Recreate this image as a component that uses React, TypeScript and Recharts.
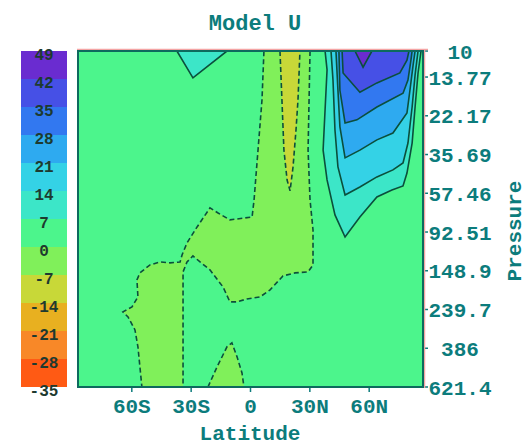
import { Bar, BarChart, CartesianGrid, ComposedChart, Scatter, XAxis, YAxis } from "recharts";

// colour levels of the field (m/s), bottom to top of the colour bar
const levels = [-35, -28, -21, -14, -7, 0, 7, 14, 21, 28, 35, 42, 49];
const bandColors = [
  "#ff5a14", "#f88828", "#e8b020", "#c8d838", "#80f05a", "#4cf58c",
  "#3ce6c8", "#34d2e6", "#2eaaf0", "#3278f0", "#4650e6", "#6a2cd0",
];

const latTicks = [-60, -30, 0, 30, 60];
const latLabels = ["60S", "30S", "0", "30N", "60N"];
const pressureTicks = [10, 13.77, 22.17, 35.69, 57.46, 92.51, 148.9, 239.7, 386, 621.4];
const pressureLabels = ["10", "13.77", "22.17", "35.69", "57.46", "92.51", "148.9", "239.7", "386", "621.4"];

// contour regions as [latitude, pressure] outlines
const easterlyBand: [number, number][] = [
  [30.1, 10], [29.6, 18.3], [29.1, 33.8], [30.1, 62.4], [31.6, 90.2], [31.6, 138.6],
  [29.1, 151], [22.5, 152.9], [16.4, 158.6], [9.9, 188.4], [4.8, 205.3], [-1.8, 210.5],
  [-6.8, 218.4], [-10.4, 218.4], [-13.9, 181.6], [-20.5, 147.3], [-25.5, 133.6],
  [-29.1, 124.1], [-32.1, 133.6], [-34.1, 151], [-34.1, 621.4], [-54.9, 621.4],
  [-55.9, 485.2], [-56.9, 379.4], [-58.4, 308.1], [-61.9, 262.6], [-64.5, 246.9],
  [-59.9, 232.2], [-56.9, 205.3], [-57.4, 166.6], [-55.9, 152.9], [-50.8, 138.6],
  [-45.8, 133.6], [-40.7, 135.2], [-35.6, 133.6], [-34.6, 122.6], [-32.1, 105.8],
  [-27.0, 86.9], [-20.5, 68.8], [-16.4, 73.2], [-10.4, 79.7], [0.8, 76.9],
  [1.8, 62.4], [3.8, 33.8], [5.8, 18.3], [6.8, 10],
];
const easterlySouth: [number, number][] = [
  [-21.5, 621.4], [-16.9, 485.2], [-11.9, 379.4], [-9.4, 361.2], [-6.8, 429], [-4.3, 522.5], [-3.3, 621.4],
];
const easterlyCore: [number, number][] = [
  [14.9, 10], [15.9, 18.3], [16.9, 33.8], [18.5, 48.8], [20.0, 55.8], [21.5, 41.6], [23.0, 26.4], [24.0, 18.3], [25.0, 10],
];
const southCap: [number, number][] = [[-37.2, 10], [-29.1, 13.9], [-11.9, 10]];

const jet7: [number, number][] = [
  [37.7, 10], [38.7, 12.6], [37.7, 20.6], [36.7, 33.8], [38.7, 48.8], [42.7, 75], [47.8, 98.3],
  [55.3, 76.9], [63.9, 60.1], [71.5, 55.2], [77.1, 52.5], [79.1, 44.8], [81.7, 31], [83.2, 19.9], [84.7, 13.1], [86.2, 10],
];
const jet14: [number, number][] = [
  [40.7, 10], [41.7, 14.3], [42.7, 26.4], [44.2, 41.6], [47.8, 58.7], [55.3, 53.2], [63.9, 47],
  [72.0, 43.1], [77.1, 39.6], [79.6, 31], [81.7, 19.9], [83.2, 13.4], [84.7, 10],
];
const jet21: [number, number][] = [
  [43.2, 10], [44.2, 16.2], [45.2, 25.4], [47.8, 37.2], [55.3, 33.8], [63.9, 29.8], [72.0, 27.4],
  [79.1, 21.4], [80.6, 16.2], [82.2, 11.9], [83.2, 10],
];
const jet28: [number, number][] = [
  [44.7, 10], [45.2, 16.2], [47.8, 24.2], [53.8, 23.3], [63.9, 19.9], [77.1, 16.8], [79.6, 14.3], [81.1, 11.2], [81.7, 10],
];
const jet35: [number, number][] = [
  [46.3, 10], [46.8, 13.1], [55.3, 16.6], [63.9, 14.8], [75.5, 13.1], [79.1, 11.2], [80.1, 10],
];
const jet42: [number, number][] = [[52.8, 10], [56.9, 12.2], [61.4, 10]];

const regions = [
  { pts: easterlyBand, color: bandColors[4], dashed: true },
  { pts: easterlySouth, color: bandColors[4], dashed: true },
  { pts: easterlyCore, color: bandColors[3], dashed: true },
  { pts: southCap, color: bandColors[6], dashed: false },
  { pts: jet7, color: bandColors[6], dashed: false },
  { pts: jet14, color: bandColors[7], dashed: false },
  { pts: jet21, color: bandColors[8], dashed: false },
  { pts: jet28, color: bandColors[9], dashed: false },
  { pts: jet35, color: bandColors[10], dashed: false },
  { pts: jet42, color: bandColors[11], dashed: false },
];

const FONT = '"Liberation Mono", "DejaVu Sans Mono", monospace';
const TEAL = "#0c7c7c";
const LINE = "#0b4f3c";

// colour bar: one stacked column, bands pushed out from zero
const bands = bandColors.map((color, i) => ({
  key: "b" + i,
  color,
  value: levels[i] >= 0 ? levels[i + 1] - levels[i] : levels[i] - levels[i + 1],
  dist: Math.abs(levels[i] + levels[i + 1]),
}));
const stackOrder = [...bands].sort((a, b) => a.dist - b.dist);
const barRow: Record<string, number | string> = { name: "bar" };
bands.forEach((b) => (barRow[b.key] = b.value));

function noShape() {
  return <g />;
}

function LevelTick(props: any) {
  const { y, payload } = props;
  return (
    <text x={23} y={y + 3} dy="0.36em" textAnchor="middle" fontFamily={FONT} fontSize={16} fontWeight="bold" fill="#1d3a30">
      {payload.value}
    </text>
  );
}

function PressureTick(props: any) {
  const { x, y, payload } = props;
  const i = pressureTicks.indexOf(payload.value);
  return (
    <text x={x + 30} y={y} dy="0.36em" textAnchor="middle" fontFamily={FONT} fontSize={21} fontWeight="bold" fill={TEAL}>
      {i >= 0 ? pressureLabels[i] : payload.value}
    </text>
  );
}

export default function App() {
  return (
    <div style={{ position: "absolute", left: 0, top: 0, width: 527, height: 446, background: "#fff" }}>
      <div style={{ position: "absolute", left: 21, top: 31 }}>
        <BarChart width={46} height={376} data={[barRow]} margin={{ top: 20, bottom: 20, left: 0, right: 0 }}
          stackOffset="sign" barCategoryGap={0} barGap={0}>
          <XAxis dataKey="name" hide />
          <YAxis type="number" domain={[-35, 49]} allowDataOverflow hide />
          {stackOrder.map((b) => (
            <Bar key={b.key} dataKey={b.key} stackId="cb" fill={b.color} isAnimationActive={false} />
          ))}
        </BarChart>
      </div>
      {/* level labels sit on the bar, drawn from the same value axis */}
      <div style={{ position: "absolute", left: 21, top: 31 }}>
        <BarChart width={46} height={376} data={[barRow]} margin={{ top: 20, bottom: 20, left: 0, right: 0 }}>
          <XAxis dataKey="name" hide />
          <YAxis type="number" domain={[-35, 49]} ticks={levels} interval={0} mirror width={46}
            axisLine={false} tickLine={false} tick={<LevelTick />} allowDataOverflow />
        </BarChart>
      </div>

      <div style={{ position: "absolute", left: 0, top: 0 }}>
        <ComposedChart width={527} height={446} margin={{ top: 51, left: 78, right: 24, bottom: 19 }}>
          <CartesianGrid horizontal={false} vertical={false} fill={bandColors[5]} fillOpacity={1} />
          {regions.map((r, i) => (
            <Scatter
              key={i}
              data={r.pts.map(([lat, p]) => ({ lat, p }))}
              shape={noShape}
              lineType="joint"
              line={{
                fill: r.color,
                stroke: LINE,
                strokeWidth: 1.6,
                strokeDasharray: r.dashed ? "5 3" : undefined,
              }}
              isAnimationActive={false}
            />
          ))}
          <XAxis type="number" dataKey="lat" domain={[-87.2, 87.2]} allowDataOverflow ticks={latTicks}
            height={40} axisLine={false} tickLine={{ stroke: TEAL, strokeWidth: 1.5 }} tickSize={5} tickMargin={6}
            tickFormatter={(v: number) => latLabels[latTicks.indexOf(v)] ?? String(v)}
            tick={{ fill: TEAL, fontSize: 21, fontFamily: FONT, fontWeight: "bold" }} />
          <YAxis type="number" dataKey="p" orientation="right" scale="log" domain={[10, 621.4]} reversed
            allowDataOverflow ticks={pressureTicks} interval={0} width={80} axisLine={false}
            tickLine={{ stroke: TEAL, strokeWidth: 1.5 }} tickSize={5} tick={<PressureTick />} />
        </ComposedChart>
      </div>

      <svg width={527} height={446} style={{ position: "absolute", left: 0, top: 0, pointerEvents: "none" }}>
        <line x1={77} y1={49.5} x2={428} y2={49.5} stroke="#f4a4a4" strokeWidth={1.5} />
        <line x1={424.5} y1={49} x2={424.5} y2={388} stroke="#f4a4a4" strokeWidth={1.5} />
        <rect x={78} y={51} width={345} height={336} fill="none" stroke="#0d6a5e" strokeWidth={2} />
        <text x={255} y={30} textAnchor="middle" fontFamily={FONT} fontSize={22} fontWeight="bold" fill={TEAL}>
          Model U
        </text>
        <text x={250} y={440} textAnchor="middle" fontFamily={FONT} fontSize={21} fontWeight="bold" fill={TEAL}>
          Latitude
        </text>
        <text transform="translate(521,231) rotate(-90)" textAnchor="middle" fontFamily={FONT} fontSize={21}
          fontWeight="bold" fill={TEAL}>
          Pressure
        </text>
      </svg>
    </div>
  );
}
